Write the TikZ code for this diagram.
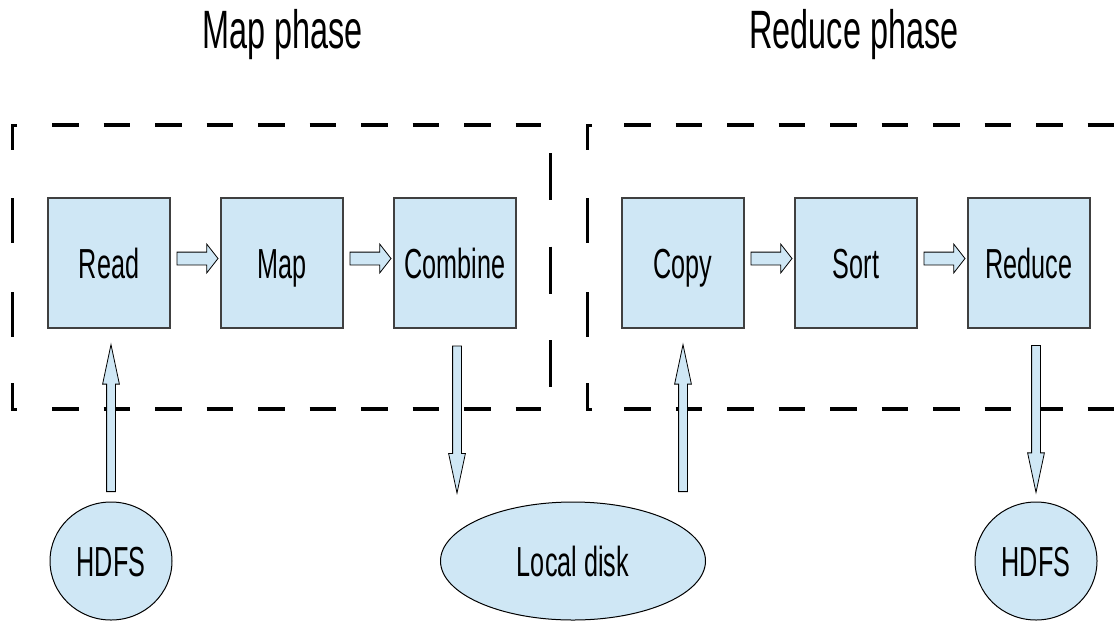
\documentclass[tikz,border=0pt]{standalone}
\usepackage{fontspec}
\setmainfont{Liberation Sans}[FakeStretch=0.6]
\usepackage{xcolor}
\usetikzlibrary{positioning,calc,shapes.geometric,shapes.arrows}
\definecolor{stepblue}{RGB}{207,231,245}

\begin{document}
\begin{tikzpicture}[x=1pt,y=-1pt,node distance=49.8pt,
    stage/.style={draw=black!75,line width=1.2pt,fill=stepblue,minimum width=122pt,minimum height=130pt,
        inner sep=0pt,text height=30pt,text depth=0pt,font=\fontsize{42}{48}\selectfont},
    store/.style={ellipse,draw,line width=1pt,fill=stepblue,minimum height=118pt,inner sep=0pt,
        text height=30pt,text depth=0pt,font=\fontsize{42}{48}\selectfont},
    hflow/.style={single arrow,draw,line width=0.8pt,fill=stepblue,inner sep=6pt,minimum height=41pt,
        single arrow head extend=8pt,single arrow tip angle=104,anchor=tail},
    vflow/.style={single arrow,draw,line width=0.8pt,fill=stepblue,inner sep=4pt,minimum height=147pt,
        single arrow head extend=4pt,single arrow tip angle=24,anchor=tail},
    phaseline/.style={line width=4pt,dash pattern=on 26.5pt off 25pt},
    phaseside/.style={line width=3pt},
    phasetitle/.style={anchor=base,font=\fontsize{54}{60}\selectfont}]
    \useasboundingbox (0,0) rectangle (1116,622);

    % titles
    \node[phasetitle] (maptitle) at (282.5,48) {Map phase};
    \node[phasetitle] (reducetitle) at (854,48) {Reduce phase};

    % dashed frames
    \draw[phaseline] (52,125) -- (541,125);
    \draw[phaseline] (52,409) -- (541,409);
    \draw[phaseline] (624,125) -- (1116,125);
    \draw[phaseline] (624,409) -- (1116,409);
    \foreach \x in {12,587} {
        \draw[phaseside] (\x+5,125) -- (\x,125) -- (\x,150);
        \draw[phaseside,dash pattern=on 45pt off 49pt] (\x,198) -- (\x,337);
        \draw[phaseside] (\x,383) -- (\x,409) -- (\x+5,409);
    }
    \draw[phaseside,dash pattern=on 47pt off 46.5pt] (550,153) -- (550,387);

    % steps
    \node[stage] (read) at (109,263) {Read};
    \node[stage,right=of read] (map) {Map};
    \node[stage,right=of map] (combine) {Combine};
    \node[stage,right=104.8pt of combine] (copy) {Copy};
    \node[stage,right=of copy] (sort) {Sort};
    \node[stage,right=of sort] (reduce) {Reduce};

    % storage
    \node[store,minimum width=122pt] (hdfsin) at (111,561) {HDFS};
    \node[store,minimum width=265pt] (disk) at (573,561) {Local disk};
    \node[store,minimum width=122pt] (hdfsout) at (1036,561) {HDFS};

    % flow between steps
    \node[hflow] (f1) at ($(read.east)+(6,-4.5)$) {};
    \node[hflow] (f2) at ($(map.east)+(6,-4.5)$) {};
    \node[hflow] (f3) at ($(copy.east)+(6,-4.5)$) {};
    \node[hflow] (f4) at ($(sort.east)+(6,-4.5)$) {};

    % flow to and from storage
    \node[vflow,shape border rotate=90] (in1) at (hdfsin.north |- 0,492) {};
    \node[vflow,shape border rotate=270] (out1) at ($(combine.south)+(2,17)$) {};
    \node[vflow,shape border rotate=90] (in2) at (copy.south |- 0,492) {};
    \node[vflow,shape border rotate=270] (out2) at (hdfsout.north |- 0,345) {};
\end{tikzpicture}
\end{document}
